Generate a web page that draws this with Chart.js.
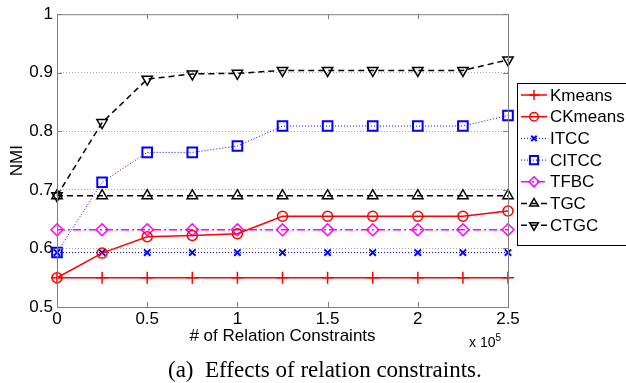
<!DOCTYPE html>
<html>
<head>
<meta charset="utf-8">
<title>Effects of relation constraints</title>
<style>
body { margin: 0; overflow: hidden; background: #fff; }
#wrap { position: relative; width: 626px; height: 383px; }
#caption { position: absolute; left: 168px; top: 358px; font: 23px/23px "Liberation Serif", "Times New Roman", serif; white-space: nowrap; color: #000; }
#scale { position: absolute; left: 469px; top: 334px; font: 14px "Liberation Sans", Arial, sans-serif; white-space: nowrap; color: #000; }
#scale sup { font-size: 10px; vertical-align: 6px; line-height: 0; }
</style>
</head>
<body>
<div id="wrap">
<canvas id="nmiChart" width="626" height="383"></canvas>
<div id="scale">x 10<sup>5</sup></div>
<div id="caption">(a)&nbsp; Effects of relation constraints.</div>
</div>
<script src="https://cdn.jsdelivr.net/npm/chart.js@4.4.1/dist/chart.umd.min.js"></script>
<script>
// number of relation constraints (x 10^5)
const constraints = [0, 0.25, 0.5, 0.75, 1, 1.25, 1.5, 1.75, 2, 2.25, 2.5];

const kmeans  = [0.550, 0.550, 0.550, 0.550, 0.550, 0.550, 0.550, 0.550, 0.550, 0.550, 0.550];
const ckmeans = [0.550, 0.592, 0.620, 0.622, 0.625, 0.655, 0.655, 0.655, 0.655, 0.655, 0.664];
const itcc    = [0.593, 0.593, 0.593, 0.593, 0.593, 0.593, 0.593, 0.593, 0.593, 0.593, 0.593];
const citcc   = [0.593, 0.713, 0.764, 0.764, 0.775, 0.809, 0.809, 0.809, 0.809, 0.809, 0.827];
const tfbc    = [0.632, 0.632, 0.632, 0.632, 0.632, 0.632, 0.632, 0.632, 0.632, 0.632, 0.632];
const tgc     = [0.690, 0.690, 0.690, 0.690, 0.690, 0.690, 0.690, 0.690, 0.690, 0.690, 0.690];
const ctgc    = [0.690, 0.815, 0.889, 0.898, 0.899, 0.904, 0.904, 0.904, 0.904, 0.904, 0.922];

const FONT = '"Liberation Sans", Arial, sans-serif';

function pts(values){
    return values.map((v, i) => ({x: constraints[i], y: v}));
}

function series(label, values, color, dash, style, radius, extra){
    return Object.assign({
        label: label,
        data: pts(values),
        borderColor: color,
        borderWidth: 1.5,
        borderDash: dash,
        pointStyle: style,
        pointRadius: radius,
        pointHoverRadius: radius,
        pointBorderColor: color,
        pointBackgroundColor: 'rgba(0,0,0,0)',
        pointBorderWidth: 1.5,
        fill: false,
        tension: 0,
        clip: false
    }, extra || {});
}

const datasets = [
    series('Kmeans',  kmeans,  '#ff0000', [],          'cross',    6),
    series('CKmeans', ckmeans, '#ff0000', [],          'circle',   5),
    series('ITCC',    itcc,    '#0000ff', [1, 2],      'crossRot', 4.5, {borderWidth: 1, pointBorderWidth: 2}),
    series('CITCC',   citcc,   '#0000ff', [1, 2],      'rect',     6.8, {borderWidth: 1, pointBorderWidth: 2}),
    series('TFBC',    tfbc,    '#ff00ff', [8, 3, 2, 3],'rectRot',  6),
    series('TGC',     tgc,     '#000000', [6, 4],      'triangle', 6),
    series('CTGC',    ctgc,    '#000000', [6, 4],      'triangle', 6, {pointRotation: 180})
];

// axis box with matlab style inner ticks
const boxPlugin = {
    id: 'box',
    afterDatasetsDraw(chart){
        const {ctx, chartArea: a, scales} = chart;
        ctx.save();
        ctx.strokeStyle = '#7f7f7f';
        ctx.lineWidth = 1;
        ctx.setLineDash([]);
        ctx.strokeRect(a.left + 0.5, a.top + 0.5, a.right - a.left, a.bottom - a.top);
        ctx.beginPath();
        scales.x.ticks.forEach(t => {
            const px = Math.round(scales.x.getPixelForValue(t.value)) + 0.5;
            ctx.moveTo(px, a.top); ctx.lineTo(px, a.top + 5);
            ctx.moveTo(px, a.bottom); ctx.lineTo(px, a.bottom - 5);
        });
        scales.y.ticks.forEach(t => {
            const py = Math.round(scales.y.getPixelForValue(t.value)) + 0.5;
            ctx.moveTo(a.left, py); ctx.lineTo(a.left + 5, py);
            ctx.moveTo(a.right, py); ctx.lineTo(a.right - 5, py);
        });
        ctx.stroke();
        ctx.restore();
    }
};

// legend box sitting at the right, partly cut by the edge
const legendPlugin = {
    id: 'boxLegend',
    afterDraw(chart){
        const ctx = chart.ctx;
        const bx = 517.5, by = 83.5, bw = 130, bh = 162;
        ctx.save();
        ctx.fillStyle = '#fff';
        ctx.fillRect(bx, by, bw, bh);
        ctx.strokeStyle = '#000';
        ctx.lineWidth = 1;
        ctx.setLineDash([]);
        ctx.strokeRect(bx, by, bw, bh);
        ctx.font = '17px ' + FONT;
        ctx.textBaseline = 'middle';
        chart.data.datasets.forEach((ds, i) => {
            const y = 95 + i * 21.7;
            ctx.strokeStyle = ds.borderColor;
            ctx.lineWidth = ds.borderWidth;
            ctx.setLineDash(ds.borderDash);
            ctx.beginPath();
            ctx.moveTo(521, y); ctx.lineTo(547, y);
            ctx.stroke();
            ctx.setLineDash([]);
            ctx.strokeStyle = ds.pointBorderColor;
            ctx.fillStyle = 'rgba(0,0,0,0)';
            ctx.lineWidth = ds.pointBorderWidth;
            Chart.helpers.drawPoint(ctx, {
                pointStyle: ds.pointStyle,
                rotation: ds.pointRotation || 0,
                radius: ds.pointRadius * 0.85,
                borderWidth: ds.pointBorderWidth
            }, 534, y);
            ctx.fillStyle = '#000';
            ctx.fillText(ds.label, 550, y + 1);
        });
        ctx.restore();
    }
};

const ctx = document.getElementById('nmiChart').getContext('2d');
new Chart(ctx, {
    type: 'line',
    data: {datasets: datasets},
    options: {
        responsive: false,
        animation: false,
        events: [],
        layout: {padding: {left: 0, top: 13, right: 118, bottom: 0}},
        plugins: {legend: {display: false}, tooltip: {enabled: false}},
        scales: {
            x: {
                type: 'linear',
                min: 0, max: 2.5,
                afterFit: s => { s.height = 76; },
                ticks: {
                    stepSize: 0.5,
                    padding: 2,
                    color: '#000',
                    font: {family: FONT, size: 17},
                    callback: v => String(+v.toFixed(2))
                },
                grid: {display: false, drawTicks: false},
                border: {display: false},
                title: {
                    display: true,
                    text: '# of Relation Constraints',
                    color: '#000',
                    font: {family: FONT, size: 17},
                    padding: {top: 0, bottom: 36}
                }
            },
            y: {
                min: 0.5, max: 1,
                afterFit: s => { s.width = 57; },
                ticks: {
                    stepSize: 0.1,
                    padding: 4,
                    color: '#000',
                    font: {family: FONT, size: 17},
                    callback: v => String(+v.toFixed(1))
                },
                grid: {
                    drawTicks: false,
                    lineWidth: 1,
                    color: c => (c.tick && (Math.abs(c.tick.value - 0.5) < 1e-6 || Math.abs(c.tick.value - 1) < 1e-6)) ? 'rgba(0,0,0,0)' : '#a8a8a8'
                },
                border: {display: false, dash: [1, 2]},
                title: {
                    display: true,
                    text: 'NMI',
                    color: '#000',
                    font: {family: FONT, size: 17},
                    padding: {top: 7, bottom: 0}
                }
            }
        }
    },
    plugins: [boxPlugin, legendPlugin]
});
</script>
</body>
</html>
